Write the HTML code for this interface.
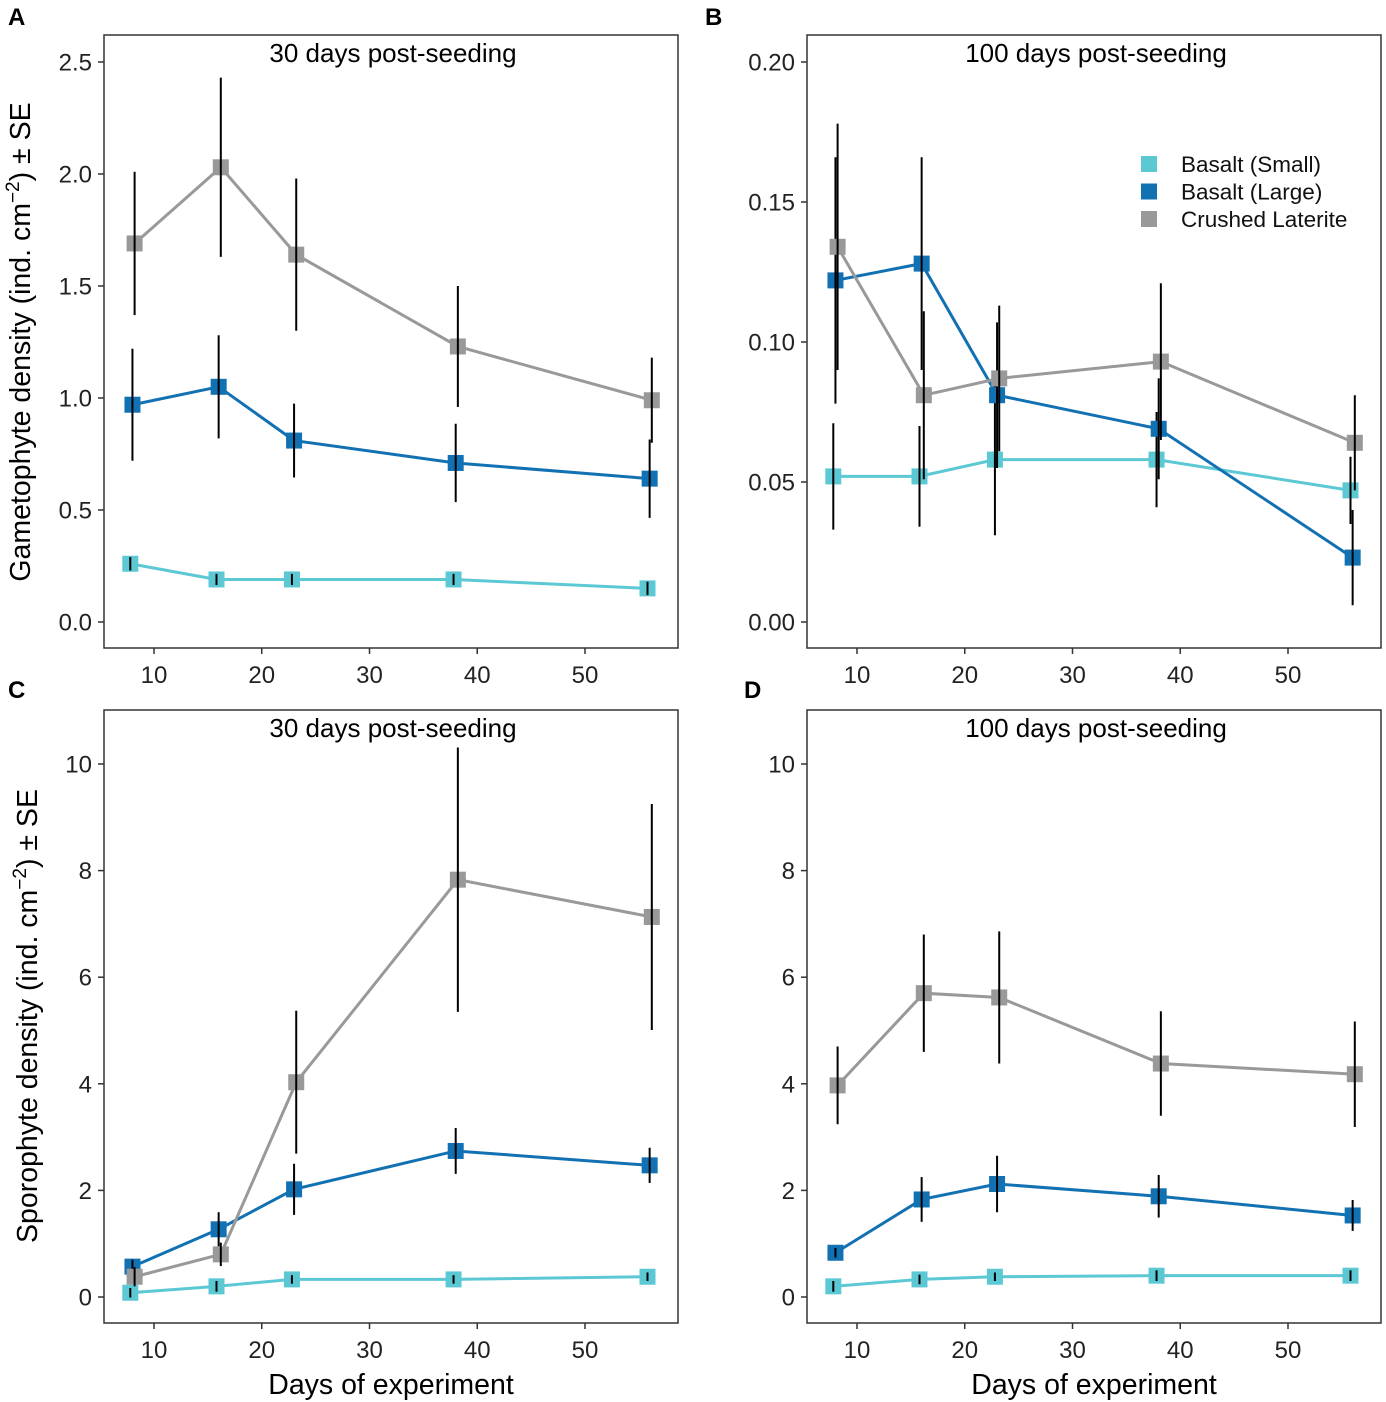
<!DOCTYPE html>
<html><head><meta charset="utf-8">
<style>
html,body{margin:0;padding:0;background:#fff;}
svg{display:block;font-family:"Liberation Sans",Arial,sans-serif;}
</style></head>
<body>
<svg id="fig" width="1386" height="1402" viewBox="0 0 1386 1402" xmlns="http://www.w3.org/2000/svg"></svg>
<script>
const days = [8, 16, 23, 38, 56];
const seriesNames = ["Basalt (Small)", "Basalt (Large)", "Crushed Laterite"];
const seriesColors = ["#5bc8d4", "#1271b3", "#999999"];
// Panel A
const aSmall = [0.26, 0.19, 0.19, 0.19, 0.15];
const aSmallSE = [0.03, 0.025, 0.025, 0.025, 0.03];
const aLarge = [0.97, 1.05, 0.81, 0.71, 0.64];
const aLargeSE = [0.25, 0.23, 0.165, 0.175, 0.175];
const aLat = [1.69, 2.03, 1.64, 1.23, 0.99];
const aLatSE = [0.32, 0.40, 0.34, 0.27, 0.19];
// Panel B
const bSmall = [0.052, 0.052, 0.058, 0.058, 0.047];
const bSmallSE = [0.019, 0.018, 0.027, 0.017, 0.012];
const bLarge = [0.122, 0.128, 0.081, 0.069, 0.023];
const bLargeSE = [0.044, 0.038, 0.026, 0.018, 0.017];
const bLat = [0.134, 0.081, 0.087, 0.093, 0.064];
const bLatSE = [0.044, 0.030, 0.026, 0.028, 0.017];
// Panel C
const cSmall = [0.08, 0.2, 0.33, 0.33, 0.38];
const cSmallSE = [0.09, 0.1, 0.08, 0.08, 0.08];
const cLarge = [0.57, 1.27, 2.02, 2.74, 2.47];
const cLargeSE = [0.13, 0.32, 0.48, 0.43, 0.33];
const cLat = [0.38, 0.8, 4.03, 7.83, 7.13];
const cLatSE = [0.18, 0.22, 1.34, 2.48, 2.12];
// Panel D
const dSmall = [0.2, 0.33, 0.38, 0.4, 0.4];
const dSmallSE = [0.1, 0.09, 0.08, 0.1, 0.1];
const dLarge = [0.83, 1.83, 2.12, 1.89, 1.53];
const dLargeSE = [0.09, 0.42, 0.53, 0.4, 0.29];
const dLat = [3.97, 5.7, 5.62, 4.38, 4.18];
const dLatSE = [0.73, 1.1, 1.24, 0.98, 0.99];
const xTicks = [10, 20, 30, 40, 50];
const yTicksA = [0.0, 0.5, 1.0, 1.5, 2.0, 2.5];
const yTicksB = [0.00, 0.05, 0.10, 0.15, 0.20];
const yTicksCD = [0, 2, 4, 6, 8, 10];

const NS = "http://www.w3.org/2000/svg";
const svg = document.getElementById("fig");
function el(tag, attrs, parent, text) {
  const e = document.createElementNS(NS, tag);
  for (const k in attrs) e.setAttribute(k, attrs[k]);
  if (text !== undefined) e.textContent = text;
  (parent || svg).appendChild(e);
  return e;
}

const panels = [
  {id:"a", letter:"A", lx:8, ly:25, box:[104,35,678,648], y0:622, y1:62, vmin:0, vmax:2.5, ticks:yTicksA, dec:1, sub:"30 days post-seeding",
   data:[[aSmall,aSmallSE],[aLarge,aLargeSE],[aLat,aLatSE]], xpx:[154,585]},
  {id:"b", letter:"B", lx:705, ly:25, box:[807,35,1381,648], y0:622, y1:62, vmin:0, vmax:0.2, ticks:yTicksB, dec:2, sub:"100 days post-seeding",
   data:[[bSmall,bSmallSE],[bLarge,bLargeSE],[bLat,bLatSE]], xpx:[857,1288], legend:true},
  {id:"c", letter:"C", lx:8, ly:698, box:[104,710,678,1323], y0:1297, y1:764, vmin:0, vmax:10, ticks:yTicksCD, dec:0, sub:"30 days post-seeding",
   data:[[cSmall,cSmallSE],[cLarge,cLargeSE],[cLat,cLatSE]], xpx:[154,585]},
  {id:"d", letter:"D", lx:744, ly:698, box:[807,710,1381,1323], y0:1297, y1:764, vmin:0, vmax:10, ticks:yTicksCD, dec:0, sub:"100 days post-seeding",
   data:[[dSmall,dSmallSE],[dLarge,dLargeSE],[dLat,dLatSE]], xpx:[857,1288]}
];
const dodge = [-0.2, 0, 0.2];

panels.forEach(p => {
  const g = el("g", {});
  
  
  const [x0b,y0b,x1b,y1b] = p.box;
  const xs = d => p.xpx[0] + (d - 10) * (p.xpx[1] - p.xpx[0]) / 40;
  const ys = v => p.y0 + (v - p.vmin) * (p.y1 - p.y0) / (p.vmax - p.vmin);
  const lt = el("text", {x:p.lx, y:p.ly, "font-size":24, "font-weight":"bold"}, g, p.letter);
  
  
  const st = el("text", {x:(x0b+x1b)/2 + 2, y:y0b + 27, "font-size":26, "text-anchor":"middle"}, g, p.sub);
  
  
  p.ticks.forEach(t => {
    const y = ys(t);
    el("line", {x1:x0b-6, x2:x0b, y1:y, y2:y, stroke:"#333", "stroke-width":1.5}, g);
    const tx = el("text", {x:x0b-12, y:y+8.5, "font-size":24, "text-anchor":"end", fill:"#222"}, g, t.toFixed(p.dec));
    
    
  });
  xTicks.forEach(t => {
    const x = xs(t);
    el("line", {x1:x, x2:x, y1:y1b, y2:y1b+6, stroke:"#333", "stroke-width":1.5}, g);
    const tx = el("text", {x:x, y:y1b+35, "font-size":24, "text-anchor":"middle", fill:"#222"}, g, t);
    
    
  });
  p.data.forEach((s, si) => {
    const [vals, se] = s;
    const sg = el("g", {}, g);
    
    
    const pts = vals.map((v,i) => xs(days[i]+dodge[si]) + "," + ys(v)).join(" ");
    el("polyline", {points:pts, fill:"none", stroke:seriesColors[si], "stroke-width":3}, sg);
    vals.forEach((v,i) => {
      const x = xs(days[i]+dodge[si]);
      const m = el("rect", {x:x-8, y:ys(v)-8, width:16, height:16, fill:seriesColors[si]}, sg);
      
      
    });
    vals.forEach((v,i) => {
      const x = xs(days[i]+dodge[si]);
      const e = el("line", {x1:x, x2:x, y1:ys(v-se[i]), y2:ys(v+se[i]), stroke:"#000", "stroke-width":2}, sg);
      
      
    });
  });
  const bx = el("rect", {x:x0b, y:y0b, width:x1b-x0b, height:y1b-y0b, fill:"none", stroke:"#333", "stroke-width":1.5}, g);
  
  
  if (p.legend) {
    const lg = el("g", {}, g);
    
    
    seriesNames.forEach((n, i) => {
      const y = 164 + i * 27.5;
      const r = el("rect", {x:1141, y:y-8, width:16, height:16, fill:seriesColors[i]}, lg);
      
      
      const t = el("text", {x:1181, y:y+8, "font-size":22.5, fill:"#111"}, lg, n);
      
      
    });
  }
});

let t1 = el("text", {x:30, y:342, "font-size":28.5, "text-anchor":"middle", transform:"rotate(-90 30 342)"});


t1.innerHTML = 'Gametophyte density (ind. cm<tspan dy="-11" font-size="19">−2</tspan><tspan dy="11">) ± SE</tspan>';
let t2 = el("text", {x:37, y:1016, "font-size":28.5, "text-anchor":"middle", transform:"rotate(-90 37 1016)"});


t2.innerHTML = 'Sporophyte density (ind. cm<tspan dy="-11" font-size="19">−2</tspan><tspan dy="11">) ± SE</tspan>';
let x1 = el("text", {x:391, y:1394, "font-size":28.5, "text-anchor":"middle"}, svg, "Days of experiment");


let x2 = el("text", {x:1094, y:1394, "font-size":28.5, "text-anchor":"middle"}, svg, "Days of experiment");


</script>
</body></html>
